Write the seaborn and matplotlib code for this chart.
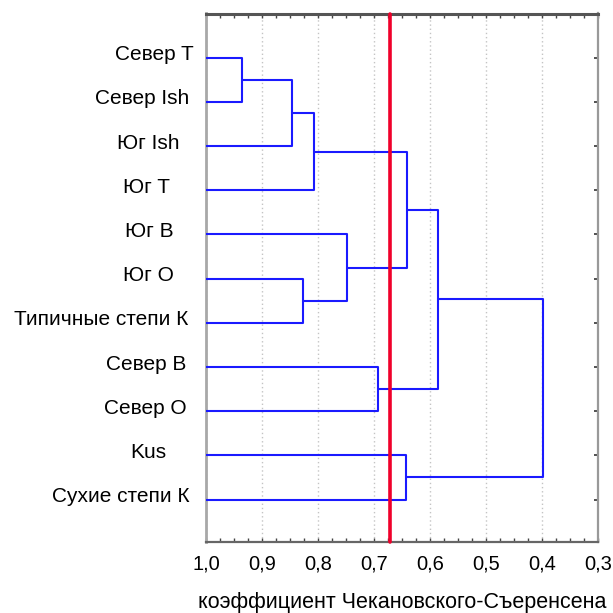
import numpy as np
import pandas as pd
import matplotlib
matplotlib.use("Agg")
import matplotlib.pyplot as plt
import matplotlib.transforms as mtransforms
from matplotlib.ticker import MultipleLocator, FixedLocator
import seaborn as sns

# ---- data ----
leaf_labels = ["Север T", "Север Ish", "Юг Ish", "Юг T", "Юг B", "Юг O",
               "Типичные степи К", "Север В", "Север O", "Kus", "Сухие степи К"]
# linkage: new cluster id = 11 + row index
merge_a = [0, 5, 11, 13, 4, 7, 14, 9, 17, 19]
merge_b = [1, 6, 2, 3, 12, 8, 15, 10, 16, 18]
merge_h = [0.935, 0.826, 0.847, 0.807, 0.748, 0.692, 0.641, 0.643, 0.585, 0.399]
cut_value = 0.671
x_ticks = [1.0, 0.9, 0.8, 0.7, 0.6, 0.5, 0.4, 0.3]
x_tick_labels = ["1,0", "0,9", "0,8", "0,7", "0,6", "0,5", "0,4", "0,3"]
x_label = "коэффициент Чекановского-Съеренсена"

# label horizontal nudges in pixels (style only)
label_shift_px = [4, 0, -10, -19, -16, -15, -1, -3, -3, -23, 0]

# ---- build dendrogram segments ----
n = len(leaf_labels)
pos = {i: float(i) for i in range(n)}
hgt = {i: 1.0 for i in range(n)}
rows = []
for k, (a, b, h) in enumerate(zip(merge_a, merge_b, merge_h)):
    cid = n + k
    pts = [(hgt[a], pos[a]), (h, pos[a]), (h, pos[b]), (hgt[b], pos[b])]
    for j, (x, y) in enumerate(pts):
        rows.append({"seg": k, "order": j, "x": x, "y": y})
    pos[cid] = (pos[a] + pos[b]) / 2.0
    hgt[cid] = h
df = pd.DataFrame(rows)

sns.set_style("white")
fam = ["Liberation Sans Narrow", "Liberation Sans", "DejaVu Sans"]
plt.rcParams["font.family"] = fam
plt.rcParams["text.color"] = "black"
plt.rcParams["axes.labelcolor"] = "black"
plt.rcParams["xtick.labelcolor"] = "black"
plt.rcParams["ytick.labelcolor"] = "black"

fig = plt.figure(figsize=(6.13, 6.13), dpi=100)
ax = fig.add_axes([206 / 613, 1 - 542 / 613, (598 - 206) / 613, (542 - 13.5) / 613])

ax.grid(axis="x", linestyle=(0, (1, 2)), color="#c4c4c4", lw=1, zorder=0)
ax.set_axisbelow(True)

sns.lineplot(data=df, x="x", y="y", units="seg", estimator=None, sort=False,
             color="#1a1aff", lw=1.5, ax=ax, legend=False, zorder=3)
ax.axvline(cut_value, color="#f0002a", lw=2.6, zorder=4, clip_on=False)

ax.set_xlim(1.0, 0.3)
ax.set_ylim(10.96, -1.0)
ax.xaxis.set_major_locator(FixedLocator(x_ticks))
ax.set_xticklabels(x_tick_labels, fontsize=14.5, color="black")
ax.xaxis.set_minor_locator(MultipleLocator(0.025))
ax.set_yticks(range(n))
ax.set_yticklabels(leaf_labels, fontsize=15, color="black")
ax.set_xlabel(x_label, fontsize=15.5, labelpad=13.5, color="black")
ax.set_ylabel("")

ax.tick_params(axis="x", which="both", direction="in", top=True, bottom=True,
               length=3, width=1, color="#444444", pad=9)
ax.tick_params(axis="y", which="both", direction="in", left=True, right=True,
               length=3, width=1.2, color="#333333", pad=12)

for lab, dx in zip(ax.get_yticklabels(), label_shift_px):
    off = mtransforms.ScaledTranslation(dx / 100, 5 / 100, fig.dpi_scale_trans)
    lab.set_transform(lab.get_transform() + off)

for side, c, w in [("top", "#555555", 2.2), ("bottom", "#666666", 1.6),
                   ("left", "#a8a8a8", 2.0), ("right", "#999999", 1.6)]:
    ax.spines[side].set_visible(True)
    ax.spines[side].set_color(c)
    ax.spines[side].set_linewidth(w)

fig.savefig("out.png", dpi=100)
